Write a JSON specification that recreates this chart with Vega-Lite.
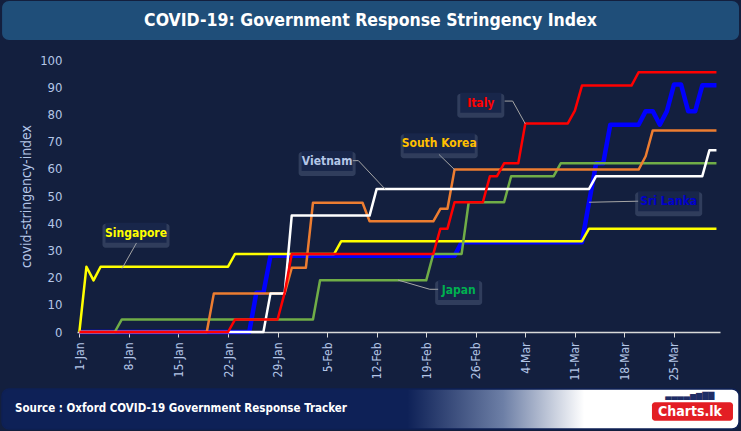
{
  "$schema": "https://vega.github.io/schema/vega-lite/v6.json",
  "width": 643,
  "height": 272,
  "autosize": {"type": "none"},
  "padding": {"left": 77, "top": 60, "right": 21, "bottom": 99},
  "background": "#131f3e",
  "config": {
    "view": {"stroke": null},
    "font": "DejaVu Sans Condensed, Roboto, sans-serif",
    "text": {"font": "DejaVu Sans Condensed, Roboto, sans-serif"},
    "axisY": {
      "tickCount": 11,
      "labelOverlap": false,
      "labelFontSize": 13,
      "labelColor": "#b4c6e7",
      "labelPadding": 15,
      "domain": false,
      "ticks": false,
      "tickSize": 0,
      "gridColor": "#1b3166",
      "gridWidth": 1,
      "titleColor": "#b4c6e7",
      "titleFontSize": 14,
      "titleFontWeight": "normal",
      "titlePadding": 6
    },
    "axisX": {
      "labelAngle": -90,
      "labelFontSize": 12,
      "labelColor": "#b4c6e7",
      "labelPadding": 5,
      "labelFlush": false,
      "labelOverlap": false,
      "grid": false,
      "domainColor": "#d9d9d9",
      "domainWidth": 1.5,
      "tickColor": "#d9d9d9",
      "tickSize": 5
    }
  },
  "datasets": {
    "series": [
      {"country": "Sri Lanka", "date": "2020-01-01", "value": 0},
      {"country": "Sri Lanka", "date": "2020-01-25", "value": 0},
      {"country": "Sri Lanka", "date": "2020-01-26", "value": 14.4},
      {"country": "Sri Lanka", "date": "2020-01-27", "value": 14.4},
      {"country": "Sri Lanka", "date": "2020-01-28", "value": 28},
      {"country": "Sri Lanka", "date": "2020-02-23", "value": 28},
      {"country": "Sri Lanka", "date": "2020-02-24", "value": 33},
      {"country": "Sri Lanka", "date": "2020-03-12", "value": 33},
      {"country": "Sri Lanka", "date": "2020-03-13", "value": 47.7},
      {"country": "Sri Lanka", "date": "2020-03-14", "value": 62},
      {"country": "Sri Lanka", "date": "2020-03-15", "value": 62},
      {"country": "Sri Lanka", "date": "2020-03-16", "value": 76.2},
      {"country": "Sri Lanka", "date": "2020-03-20", "value": 76.2},
      {"country": "Sri Lanka", "date": "2020-03-21", "value": 81.2},
      {"country": "Sri Lanka", "date": "2020-03-22", "value": 81.2},
      {"country": "Sri Lanka", "date": "2020-03-23", "value": 76.2},
      {"country": "Sri Lanka", "date": "2020-03-24", "value": 81.2},
      {"country": "Sri Lanka", "date": "2020-03-25", "value": 91},
      {"country": "Sri Lanka", "date": "2020-03-26", "value": 91},
      {"country": "Sri Lanka", "date": "2020-03-27", "value": 81.2},
      {"country": "Sri Lanka", "date": "2020-03-28", "value": 81.2},
      {"country": "Sri Lanka", "date": "2020-03-29", "value": 90.7},
      {"country": "Sri Lanka", "date": "2020-03-31", "value": 90.7},
      {"country": "Singapore", "date": "2020-01-01", "value": 0},
      {"country": "Singapore", "date": "2020-01-02", "value": 24},
      {"country": "Singapore", "date": "2020-01-03", "value": 19},
      {"country": "Singapore", "date": "2020-01-04", "value": 24},
      {"country": "Singapore", "date": "2020-01-22", "value": 24},
      {"country": "Singapore", "date": "2020-01-23", "value": 28.7},
      {"country": "Singapore", "date": "2020-02-06", "value": 28.7},
      {"country": "Singapore", "date": "2020-02-07", "value": 33.4},
      {"country": "Singapore", "date": "2020-03-12", "value": 33.4},
      {"country": "Singapore", "date": "2020-03-13", "value": 38},
      {"country": "Singapore", "date": "2020-03-31", "value": 38},
      {"country": "Japan", "date": "2020-01-01", "value": 0},
      {"country": "Japan", "date": "2020-01-06", "value": 0},
      {"country": "Japan", "date": "2020-01-07", "value": 4.6},
      {"country": "Japan", "date": "2020-02-03", "value": 4.6},
      {"country": "Japan", "date": "2020-02-04", "value": 19},
      {"country": "Japan", "date": "2020-02-19", "value": 19},
      {"country": "Japan", "date": "2020-02-20", "value": 28.7},
      {"country": "Japan", "date": "2020-02-24", "value": 28.7},
      {"country": "Japan", "date": "2020-02-25", "value": 47.7},
      {"country": "Japan", "date": "2020-03-01", "value": 47.7},
      {"country": "Japan", "date": "2020-03-02", "value": 57.3},
      {"country": "Japan", "date": "2020-03-08", "value": 57.3},
      {"country": "Japan", "date": "2020-03-09", "value": 62},
      {"country": "Japan", "date": "2020-03-31", "value": 62},
      {"country": "South Korea", "date": "2020-01-01", "value": 0},
      {"country": "South Korea", "date": "2020-01-19", "value": 0},
      {"country": "South Korea", "date": "2020-01-20", "value": 14.2},
      {"country": "South Korea", "date": "2020-01-30", "value": 14.2},
      {"country": "South Korea", "date": "2020-01-31", "value": 23.6},
      {"country": "South Korea", "date": "2020-02-02", "value": 23.6},
      {"country": "South Korea", "date": "2020-02-03", "value": 47.5},
      {"country": "South Korea", "date": "2020-02-10", "value": 47.5},
      {"country": "South Korea", "date": "2020-02-11", "value": 40.7},
      {"country": "South Korea", "date": "2020-02-20", "value": 40.7},
      {"country": "South Korea", "date": "2020-02-21", "value": 45.3},
      {"country": "South Korea", "date": "2020-02-22", "value": 45.3},
      {"country": "South Korea", "date": "2020-02-23", "value": 59.7},
      {"country": "South Korea", "date": "2020-03-20", "value": 59.7},
      {"country": "South Korea", "date": "2020-03-21", "value": 64.6},
      {"country": "South Korea", "date": "2020-03-22", "value": 74.1},
      {"country": "South Korea", "date": "2020-03-31", "value": 74.1},
      {"country": "Vietnam", "date": "2020-01-01", "value": 0},
      {"country": "Vietnam", "date": "2020-01-27", "value": 0},
      {"country": "Vietnam", "date": "2020-01-28", "value": 14.2},
      {"country": "Vietnam", "date": "2020-01-30", "value": 14.2},
      {"country": "Vietnam", "date": "2020-01-31", "value": 42.8},
      {"country": "Vietnam", "date": "2020-02-11", "value": 42.8},
      {"country": "Vietnam", "date": "2020-02-12", "value": 52.6},
      {"country": "Vietnam", "date": "2020-03-13", "value": 52.6},
      {"country": "Vietnam", "date": "2020-03-14", "value": 57.3},
      {"country": "Vietnam", "date": "2020-03-29", "value": 57.3},
      {"country": "Vietnam", "date": "2020-03-30", "value": 66.8},
      {"country": "Vietnam", "date": "2020-03-31", "value": 66.8},
      {"country": "Italy", "date": "2020-01-01", "value": 0},
      {"country": "Italy", "date": "2020-01-22", "value": 0},
      {"country": "Italy", "date": "2020-01-23", "value": 4.6},
      {"country": "Italy", "date": "2020-01-29", "value": 4.6},
      {"country": "Italy", "date": "2020-01-30", "value": 14.4},
      {"country": "Italy", "date": "2020-01-31", "value": 28.7},
      {"country": "Italy", "date": "2020-02-20", "value": 28.7},
      {"country": "Italy", "date": "2020-02-21", "value": 38},
      {"country": "Italy", "date": "2020-02-22", "value": 38},
      {"country": "Italy", "date": "2020-02-23", "value": 47.7},
      {"country": "Italy", "date": "2020-02-27", "value": 47.7},
      {"country": "Italy", "date": "2020-02-28", "value": 57.3},
      {"country": "Italy", "date": "2020-02-29", "value": 57.3},
      {"country": "Italy", "date": "2020-03-01", "value": 62},
      {"country": "Italy", "date": "2020-03-03", "value": 62},
      {"country": "Italy", "date": "2020-03-04", "value": 76.7},
      {"country": "Italy", "date": "2020-03-10", "value": 76.7},
      {"country": "Italy", "date": "2020-03-11", "value": 81.4},
      {"country": "Italy", "date": "2020-03-12", "value": 90.6},
      {"country": "Italy", "date": "2020-03-19", "value": 90.6},
      {"country": "Italy", "date": "2020-03-20", "value": 95.5},
      {"country": "Italy", "date": "2020-03-31", "value": 95.5}
    ],
    "labels": [
      {"label": "Singapore", "date": "2020-01-09T00:00:00Z", "value": 36.5},
      {"label": "Vietnam", "date": "2020-02-05T00:00:00Z", "value": 62.9},
      {"label": "South Korea", "date": "2020-02-20T20:00:00Z", "value": 69.4},
      {"label": "Italy", "date": "2020-02-26T17:00:00Z", "value": 84.3},
      {"label": "Japan", "date": "2020-02-23T14:00:00Z", "value": 15.4},
      {"label": "Sri Lanka", "date": "2020-03-24T06:00:00Z", "value": 48.1}
    ],
    "leaders": [
      {"label": "Singapore", "o": 1, "date": "2020-01-09T02:00:00Z", "value": 32.8},
      {"label": "Singapore", "o": 2, "date": "2020-01-07T01:00:00Z", "value": 23.4},
      {"label": "Vietnam", "o": 1, "date": "2020-02-08T14:00:00Z", "value": 63.0},
      {"label": "Vietnam", "o": 2, "date": "2020-02-09T10:00:00Z", "value": 63.0},
      {"label": "Vietnam", "o": 3, "date": "2020-02-13T05:00:00Z", "value": 52.5},
      {"label": "South Korea", "o": 1, "date": "2020-02-20T19:00:00Z", "value": 65.3},
      {"label": "South Korea", "o": 2, "date": "2020-02-23T01:00:00Z", "value": 59.6},
      {"label": "Italy", "o": 1, "date": "2020-03-01T02:00:00Z", "value": 84.9},
      {"label": "Italy", "o": 2, "date": "2020-03-02T05:00:00Z", "value": 84.9},
      {"label": "Italy", "o": 3, "date": "2020-03-04T00:00:00Z", "value": 76.5},
      {"label": "Japan", "o": 1, "date": "2020-02-15T00:00:00Z", "value": 19.1},
      {"label": "Japan", "o": 2, "date": "2020-02-19T12:00:00Z", "value": 15.7},
      {"label": "Japan", "o": 3, "date": "2020-02-20T19:00:00Z", "value": 15.7},
      {"label": "Sri Lanka", "o": 1, "date": "2020-03-13T00:00:00Z", "value": 47.7},
      {"label": "Sri Lanka", "o": 2, "date": "2020-03-20T05:00:00Z", "value": 48.1}
    ]
  },
  "layer": [
    {
      "data": {"values": [{}]},
      "mark": {"type": "rect", "color": "#1f4e79", "cornerRadius": 7},
      "encoding": {
        "x": {"datum": {"year": 2019, "month": 12, "date": 21, "hours": 2, "utc": true}, "type": "temporal"},
        "x2": {"datum": {"year": 2020, "month": 4, "date": 3, "hours": 4, "minutes": 30, "utc": true}},
        "y": {"datum": 121.7, "type": "quantitative"},
        "y2": {"datum": 107.35}
      }
    },
    {
      "data": {"values": [{"t": "COVID-19: Government Response Stringency Index"}]},
      "mark": {"type": "text", "color": "#ffffff", "fontSize": 17.5, "fontWeight": "bold", "align": "center", "baseline": "middle"},
      "encoding": {
        "x": {"datum": {"year": 2020, "month": 2, "date": 11, "hours": 3, "utc": true}, "type": "temporal"},
        "y": {"datum": 114.3, "type": "quantitative"},
        "text": {"field": "t"}
      }
    },
    {
      "data": {"values": [{}]},
      "mark": {
        "type": "rect",
        "cornerRadius": 7,
        "stroke": "#0e2056",
        "strokeWidth": 1.5,
        "color": {
          "gradient": "linear",
          "x1": 0, "y1": 0, "x2": 1, "y2": 0,
          "stops": [
            {"offset": 0, "color": "#0e2157"},
            {"offset": 0.55, "color": "#0e2157"},
            {"offset": 0.68, "color": "#6d7fa6"},
            {"offset": 0.79, "color": "#ffffff"},
            {"offset": 1, "color": "#ffffff"}
          ]
        }
      },
      "encoding": {
        "x": {"datum": {"year": 2019, "month": 12, "date": 21, "hours": 2, "utc": true}, "type": "temporal"},
        "x2": {"datum": {"year": 2020, "month": 4, "date": 3, "hours": 4, "minutes": 30, "utc": true}},
        "y": {"datum": -20.96, "type": "quantitative"},
        "y2": {"datum": -35.66}
      }
    },
    {
      "data": {"values": [{"t": "Source : Oxford COVID-19 Government Response Tracker"}]},
      "mark": {"type": "text", "color": "#ffffff", "fontSize": 11.5, "fontWeight": "bold", "align": "left", "baseline": "middle"},
      "encoding": {
        "x": {"datum": {"year": 2019, "month": 12, "date": 22, "hours": 22, "utc": true}, "type": "temporal"},
        "y": {"datum": -28.3, "type": "quantitative"},
        "text": {"field": "t"}
      }
    },
    {
      "data": {"values": [{}]},
      "mark": {"type": "rect", "color": "#e31e24", "cornerRadius": 3},
      "encoding": {
        "x": {"datum": {"year": 2020, "month": 3, "date": 21, "hours": 21, "minutes": 20, "utc": true}, "type": "temporal"},
        "x2": {"datum": {"year": 2020, "month": 4, "date": 2, "hours": 8, "utc": true}},
        "y": {"datum": -25.8, "type": "quantitative"},
        "y2": {"datum": -32.6}
      }
    },
    {
      "data": {"values": [{"t": "Charts.lk"}]},
      "mark": {"type": "text", "color": "#ffffff", "fontSize": 14, "fontWeight": "bold", "align": "center", "baseline": "middle"},
      "encoding": {
        "x": {"datum": {"year": 2020, "month": 3, "date": 27, "hours": 6, "utc": true}, "type": "temporal"},
        "y": {"datum": -29.3, "type": "quantitative"},
        "text": {"field": "t"}
      }
    },
    {
      "data": {"values": [{"t": "▃▃▃▃▅▆▇▇"}]},
      "mark": {"type": "text", "color": "#1f2d66", "fontSize": 8, "font": "DejaVu Sans", "align": "center", "baseline": "bottom"},
      "encoding": {
        "x": {"datum": {"year": 2020, "month": 3, "date": 27, "hours": 6, "utc": true}, "type": "temporal"},
        "y": {"datum": -25.0, "type": "quantitative"},
        "text": {"field": "t"}
      }
    },
    {
      "data": {"name": "series"},
      "mark": {"type": "line", "strokeJoin": "round"},
      "encoding": {
        "x": {
          "field": "date",
          "type": "temporal",
          "title": null,
          "scale": {
            "type": "utc",
            "domain": [
              {"year": 2019, "month": 12, "date": 31, "hours": 16, "utc": true},
              {"year": 2020, "month": 3, "date": 31, "hours": 12, "utc": true}
            ]
          },
          "axis": {
            "title": null,
            "format": "%-d-%b",
            "values": [
              {"year": 2020, "month": 1, "date": 1, "utc": true},
              {"year": 2020, "month": 1, "date": 8, "utc": true},
              {"year": 2020, "month": 1, "date": 15, "utc": true},
              {"year": 2020, "month": 1, "date": 22, "utc": true},
              {"year": 2020, "month": 1, "date": 29, "utc": true},
              {"year": 2020, "month": 2, "date": 5, "utc": true},
              {"year": 2020, "month": 2, "date": 12, "utc": true},
              {"year": 2020, "month": 2, "date": 19, "utc": true},
              {"year": 2020, "month": 2, "date": 26, "utc": true},
              {"year": 2020, "month": 3, "date": 4, "utc": true},
              {"year": 2020, "month": 3, "date": 11, "utc": true},
              {"year": 2020, "month": 3, "date": 18, "utc": true},
              {"year": 2020, "month": 3, "date": 25, "utc": true}
            ]
          }
        },
        "y": {
          "field": "value",
          "type": "quantitative",
          "title": "covid-stringency-index",
          "scale": {"domain": [0, 100], "nice": false},
          "axis": {
            "title": "covid-stringency-index",
            "values": [0, 10, 20, 30, 40, 50, 60, 70, 80, 90, 100]
          }
        },
        "stroke": {
          "field": "country",
          "type": "nominal",
          "legend": null,
          "scale": {
            "domain": ["Sri Lanka", "Singapore", "Japan", "South Korea", "Vietnam", "Italy"],
            "range": ["#0000ff", "#ffff00", "#70ad47", "#ed7d31", "#ffffff", "#ff0000"]
          }
        },
        "strokeWidth": {
          "condition": {"test": "datum.country === 'Sri Lanka'", "value": 4.5},
          "value": 2.5
        }
      }
    },
    {
      "data": {"name": "leaders"},
      "mark": {"type": "line", "color": "#a6a6a6", "strokeWidth": 1},
      "encoding": {
        "x": {"field": "date", "type": "temporal", "title": null},
        "y": {"field": "value", "type": "quantitative", "title": "covid-stringency-index"},
        "detail": {"field": "label"},
        "order": {"field": "o", "type": "quantitative"}
      }
    },
    {
      "data": {"name": "labels"},
      "mark": {
        "type": "rect",
        "color": "#7484a3",
        "opacity": 0.3,
        "cornerRadius": 3,
        "xOffset": {"expr": "-(2.5*length(datum.label)+11)"},
        "x2Offset": {"expr": "2.5*length(datum.label)+11"},
        "yOffset": -9,
        "y2Offset": 15
      },
      "encoding": {
        "x": {"field": "date", "type": "temporal", "title": null},
        "x2": {"field": "date"},
        "y": {"field": "value", "type": "quantitative", "title": "covid-stringency-index"},
        "y2": {"field": "value"}
      }
    },
    {
      "data": {"name": "labels"},
      "mark": {
        "type": "rect",
        "color": "#18264a",
        "xOffset": {"expr": "-(2.5*length(datum.label)+8)"},
        "x2Offset": {"expr": "2.5*length(datum.label)+8"},
        "yOffset": -10,
        "y2Offset": 10
      },
      "encoding": {
        "x": {"field": "date", "type": "temporal", "title": null},
        "x2": {"field": "date"},
        "y": {"field": "value", "type": "quantitative", "title": "covid-stringency-index"},
        "y2": {"field": "value"}
      }
    },
    {
      "data": {"name": "labels"},
      "mark": {"type": "text", "fontSize": 12, "fontWeight": "bold", "align": "center", "baseline": "middle"},
      "encoding": {
        "x": {"field": "date", "type": "temporal", "title": null},
        "y": {"field": "value", "type": "quantitative", "title": "covid-stringency-index"},
        "text": {"field": "label"},
        "fill": {
          "field": "label",
          "type": "nominal",
          "legend": null,
          "scale": {
            "domain": ["Singapore", "Vietnam", "South Korea", "Italy", "Japan", "Sri Lanka"],
            "range": ["#ffff00", "#b4c6e7", "#ffc000", "#ff0000", "#00b050", "#0000cc"]
          }
        }
      }
    }
  ]
}
